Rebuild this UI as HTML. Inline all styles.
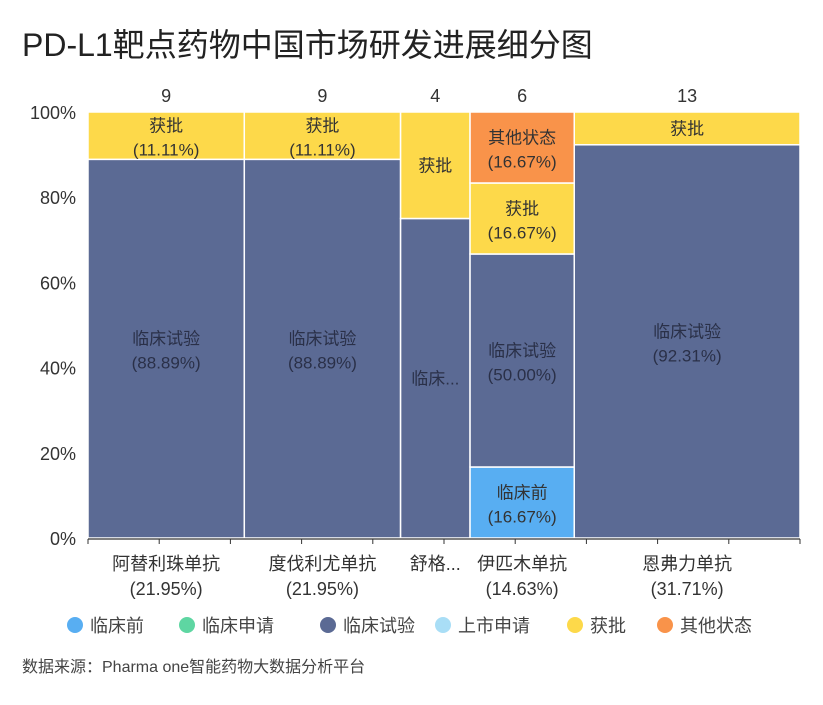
<!DOCTYPE html>
<html><head><meta charset="utf-8"><style>
body{margin:0;background:#fff;}
svg text{font-family:"Liberation Sans","Noto Sans CJK SC",sans-serif;}
</style></head><body>
<svg id="c" width="823" height="700" xmlns="http://www.w3.org/2000/svg">
<text x="22" y="56" font-size="32" fill="#222">PD-L1靶点药物中国市场研发进展细分图</text>
<g id="plot"></g>
<text x="22" y="672" font-size="16" fill="#444">数据来源：Pharma one智能药物大数据分析平台</text>
</svg>
<script>
const drugs=["阿替利珠单抗","度伐利尤单抗","舒格利单抗","伊匹木单抗","恩弗力单抗"];
const xLabels=["阿替利珠单抗","度伐利尤单抗","舒格...","伊匹木单抗","恩弗力单抗"];
const stages=["临床前","临床申请","临床试验","上市申请","获批","其他状态"];
const colors=["#58aef2","#5ed6a2","#5b6a94","#a9def6","#fdd94a","#f9934a"];
const preclinical=[0,0,0,1,0];
const application=[0,0,0,0,0];
const trials=[8,8,3,3,12];
const marketApp=[0,0,0,0,0];
const approved=[1,1,1,1,1];
const other=[0,0,0,1,0];
const yTicks=[0,20,40,60,80,100];
const series=[preclinical,application,trials,marketApp,approved,other];
const NS="http://www.w3.org/2000/svg";
const g=document.getElementById('plot');
const L=88,R=800,T=112,B=538;
const totals=drugs.map((d,i)=>series.reduce((s,a)=>s+a[i],0));
const grand=totals.reduce((a,b)=>a+b,0);
const xs=v=>L+(R-L)*v/grand;
const ys=p=>B-(B-T)*p/100;
function el(t,a,txt){const e=document.createElementNS(NS,t);for(const k in a)e.setAttribute(k,a[k]);if(txt!==undefined)e.textContent=txt;g.appendChild(e);return e;}
yTicks.forEach(v=>{const t=el('text',{x:76,y:ys(v)+7,'font-size':18,fill:'#333','text-anchor':'end'},v+'%');

});
let cum=0;
drugs.forEach((d,i)=>{
 const x0=xs(cum),x1=xs(cum+totals[i]);cum+=totals[i];
 const w=x1-x0,cx=(x0+x1)/2;
 let acc=0;
 series.forEach((s,k)=>{
  if(!s[i])return;
  const p0=acc/totals[i]*100;acc+=s[i];const p1=acc/totals[i]*100;
  const y0=ys(p1),y1=ys(p0);
  const r=el('rect',{x:x0,y:y0,width:w,height:y1-y0,fill:colors[k],stroke:'#fff','stroke-width':1.5});
  
  
  const pct=(s[i]/totals[i]*100).toFixed(2)+'%';
  const cy=(y0+y1)/2;
  let name=stages[k];
  if(w<80&&name.length*17>w-10)name=name.slice(0,2)+'...';
  const fill=k===2?'#2a3048':'#333';
  if(w<80||y1-y0<42){
   const t=el('text',{x:cx,y:cy+6,'font-size':17,fill:fill,'text-anchor':'middle'},name);
   
   
  }else{
   const t=el('text',{x:cx,y:cy-4,'font-size':17,fill:fill,'text-anchor':'middle'},name);
   
   
   const t2=el('text',{x:cx,y:cy+20,'font-size':17,fill:fill,'text-anchor':'middle'},'('+pct+')');
   
   
  }
 });
 const c=el('text',{x:cx,y:102,'font-size':18,fill:'#333','text-anchor':'middle'},totals[i]);
 
 
 const n=el('text',{x:cx,y:570,'font-size':18,fill:'#333','text-anchor':'middle'},xLabels[i]);
 
 
 if(w>=80){const p=el('text',{x:cx,y:595,'font-size':18,fill:'#333','text-anchor':'middle'},'('+(totals[i]/grand*100).toFixed(2)+'%)');
 
 }
});
const ax=el('line',{x1:L,x2:R,y1:B+1,y2:B+1,stroke:'#333','stroke-width':1.2});


for(let j=0;j<=10;j++){const x=L+(R-L)*j/10;el('line',{x1:x,x2:x,y1:B+1,y2:B+6,stroke:'#333'});}
const lx=[75,187,328,443,575,665];
stages.forEach((s,k)=>{
 const c=el('circle',{cx:lx[k],cy:625,r:8,fill:colors[k]});
 
 
 const t=el('text',{x:lx[k]+15,y:632,'font-size':18,fill:'#444'},s);
 
 
});
</script>
</body></html>
